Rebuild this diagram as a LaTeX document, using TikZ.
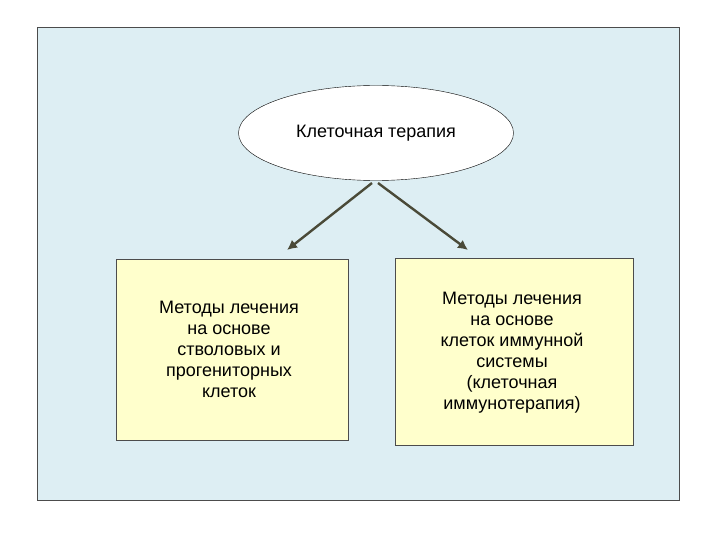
\documentclass[tikz,border=0pt]{standalone}
\usepackage{fontspec}
\setmainfont{Liberation Sans}
\usetikzlibrary{shapes.geometric,arrows.meta}
\definecolor{bgc}{HTML}{DDEEF3}
\definecolor{boxc}{HTML}{FFFFCC}
\definecolor{arc}{HTML}{4A4A38}
\begin{document}
\begin{tikzpicture}[x=1pt,y=-1pt,
  box/.style={draw=black!70,fill=boxc,line width=0.6pt},
  txt/.style={font=\fontsize{18}{21}\selectfont,align=center},
  arr/.style={draw=arc,line width=2.4pt,-{Latex[length=10pt,width=10pt]}}]
\useasboundingbox (0,0) rectangle (720,540);
\node[draw=black!70,fill=bgc,line width=0.6pt,minimum width=642,minimum height=473,anchor=north west,inner sep=0] (bg) at (37,27) {};
\node[draw=black,fill=white,ellipse,minimum width=275,minimum height=95,font=\fontsize{18}{21}\selectfont] (e) at (376,133) {Клеточная терапия};
\node[box,minimum width=232,minimum height=181,anchor=north west,inner sep=0] (l) at (116,259) {};
\node[box,minimum width=238,minimum height=187,anchor=north west,inner sep=0] (r) at (395,258) {};
\node[txt] (lt) at (229,349) {Методы лечения\\на основе\\стволовых и\\прогениторных\\клеток};
\node[txt] (rt) at (512,353) {Методы лечения\\на основе\\клеток иммунной\\системы\\(клеточная\\иммунотерапия)};
\coordinate (a1) at (372,183);
\coordinate (a2) at (378,183);
\coordinate (b1) at (287,250);
\coordinate (b2) at (468,250);
\draw[arr] (a1) -- (b1);
\draw[arr] (a2) -- (b2);
\end{tikzpicture}
\end{document}
